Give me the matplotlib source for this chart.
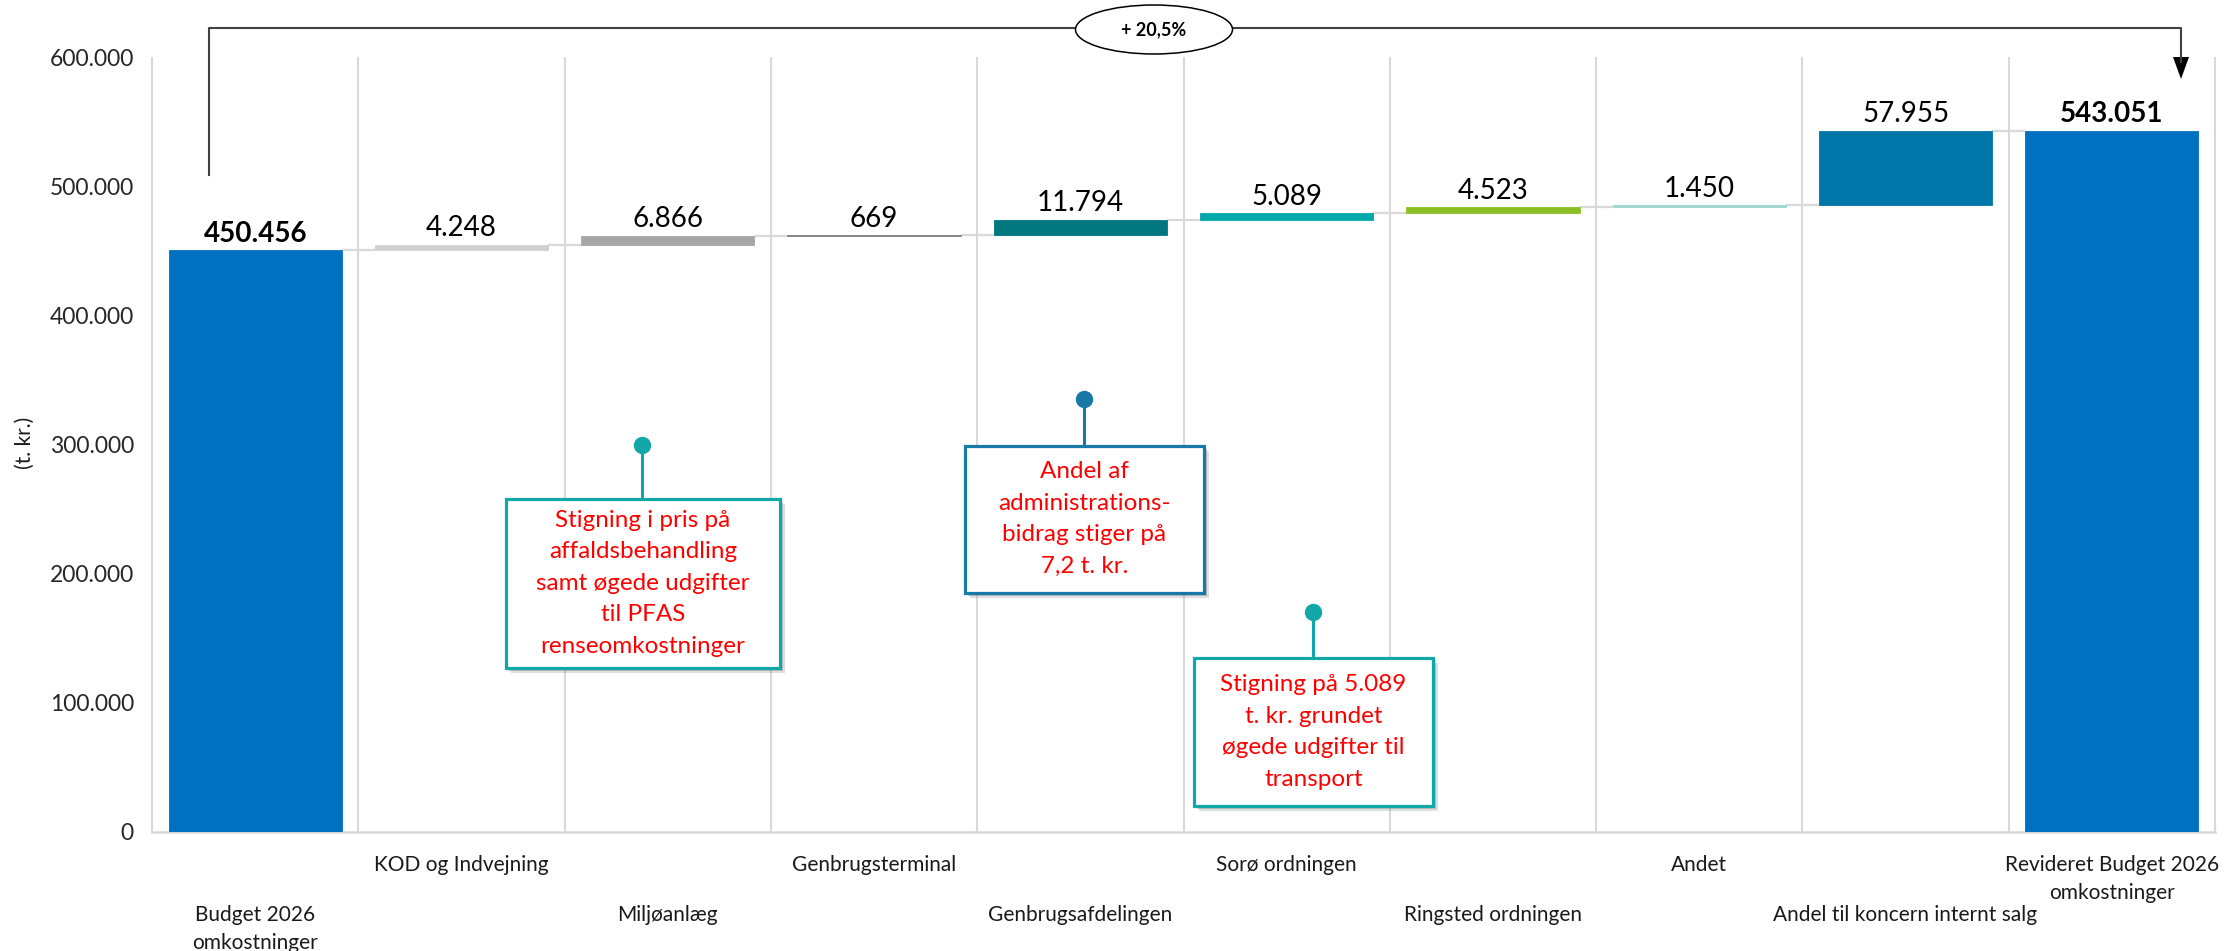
import matplotlib
matplotlib.use("Agg")
import matplotlib.pyplot as plt
from matplotlib.patches import Rectangle, Ellipse, Polygon
from matplotlib.lines import Line2D
from matplotlib.ticker import FuncFormatter
from matplotlib import transforms

plt.rcParams["font.family"] = ["Lato", "DejaVu Sans"]

# ---- data -----------------------------------------------------------------
categories = [
    "Budget 2026\nomkostninger",
    "KOD og Indvejning",
    "Miljøanlæg",
    "Genbrugsterminal",
    "Genbrugsafdelingen",
    "Sorø ordningen",
    "Ringsted ordningen",
    "Andet",
    "Andel til koncern internt salg",
    "Revideret Budget 2026\nomkostninger",
]
start_value = 450456
changes = [4248, 6866, 669, 11794, 5089, 4523, 1450, 57955]
end_value = 543051
y_ticks = [0, 100000, 200000, 300000, 400000, 500000, 600000]
change_label = "+ 20,5%"

bar_colors = ["#0070C0", "#D0D0D0", "#A6A6A6", "#7F7F7F", "#00777F",
              "#00A9AA", "#8CBF26", "#9DD5D2", "#0076A8", "#0070C0"]

notes = [
    "Stigning i pris på\naffaldsbehandling\nsamt øgede udgifter\ntil PFAS\nrenseomkostninger",
    "Andel af\nadministrations-\nbidrag stiger på\n7,2 t. kr.",
    "Stigning på 5.089\nt. kr. grundet\nøgede udgifter til\ntransport",
]

# ---- figure ---------------------------------------------------------------
W, H = 2234, 951
fig = plt.figure(figsize=(W / 100, H / 100), dpi=100)
ax = fig.add_axes([152 / W, 1 - 832 / H, (2215 - 152) / W, (832 - 57) / H])


def fmt(v):
    return f"{int(round(v)):,}".replace(",", ".")


n = len(categories)
bw = 0.84
bottoms, heights = [0], [start_value]
running = start_value
for c in changes:
    bottoms.append(running)
    heights.append(c)
    running += c
bottoms.append(0)
heights.append(end_value)
tops = [b + h for b, h in zip(bottoms, heights)]

ax.set_xlim(-0.5, n - 0.5)
ax.set_ylim(0, 600000)

# category separators
ax.vlines([i - 0.5 for i in range(n + 1)], 0, 600000, colors="#D9D9D9",
          lw=1.5, zorder=0, clip_on=False)

ax.bar(range(n), heights, bottom=bottoms, width=bw, color=bar_colors,
       edgecolor=bar_colors, linewidth=0.6, zorder=3)

# connectors between consecutive bars
for i in range(n - 1):
    lvl = tops[i] if i < n - 2 else tops[n - 1]
    ax.plot([i + bw / 2, i + 1 - bw / 2], [lvl, lvl], color="#D9D9D9",
            lw=1.6, zorder=2, solid_capstyle="butt")

# value labels
labels = [fmt(start_value)] + [fmt(c) for c in changes] + [fmt(end_value)]
for i, (t, lab) in enumerate(zip(tops, labels)):
    bold = i in (0, n - 1)
    ax.annotate(lab, xy=(i, t), xytext=(0, 6), textcoords="offset points",
                ha="center", va="baseline", fontsize=20,
                fontweight="bold" if bold else "normal", color="#000000",
                zorder=5)

# axes styling
for s in ("left", "right", "top"):
    ax.spines[s].set_visible(False)
ax.spines["bottom"].set_color("#D9D9D9")
ax.spines["bottom"].set_linewidth(1.8)
ax.set_yticks(y_ticks)
ax.yaxis.set_major_formatter(FuncFormatter(lambda v, p: fmt(v)))
ax.tick_params(axis="y", length=0, pad=13, labelsize=16.5, labelcolor="#262626")
ax.set_xticks([])

# staggered category labels
for i, cat in enumerate(categories):
    off = 16.5 if i % 2 == 1 else 52.5
    ax.annotate(cat, xy=(i, 0), xycoords=("data", "axes fraction"),
                xytext=(0, -off), textcoords="offset points", ha="center",
                va="top", fontsize=15, linespacing=1.5, color="#1A1A1A")

fig.text(25 / W, 1 - 443 / H, "(t. kr.)", rotation=90, ha="center",
         va="center", fontsize=15, color="#1A1A1A")


# ---- bracket with percentage change ------------------------------------------
def fp(x, y):
    return x / W, 1 - y / H


xs, ys = zip(fp(209, 175), fp(209, 27.7), fp(2181, 27.7), fp(2181, 62))
fig.add_artist(Line2D(xs, ys, transform=fig.transFigure, color="#404040",
                      lw=1.5))
fig.add_artist(Polygon([fp(2173, 57), fp(2189, 57), fp(2181, 79)],
                       closed=True, transform=fig.transFigure,
                       facecolor="#000000", edgecolor="none"))
cx, cy = fp(1154, 29.5)
fig.add_artist(Ellipse((cx, cy), 157 / W, 49 / H, transform=fig.transFigure,
                       facecolor="white", edgecolor="#000000", lw=1.1,
                       zorder=4))
fig.text(cx, cy, change_label, ha="center", va="center", fontsize=13,
         fontweight="bold", zorder=5)

# ---- callout boxes -----------------------------------------------------------
# (left, right, bottom, top, dot x, dot y, edge colour) in axis units
boxes = [
    (1.216, 2.544, 127100, 258100, 1.875, 300000, "#12A8A8"),
    (3.441, 4.599, 185300, 299200, 4.018, 334900, "#1878A6"),
    (4.551, 5.709, 20200, 134900, 5.128, 170500, "#12A8A8"),
]
shadow1 = transforms.offset_copy(ax.transData, fig=fig, x=5, y=-5, units="dots")
shadow2 = transforms.offset_copy(ax.transData, fig=fig, x=3, y=-3, units="dots")
for text, (x0, x1, y0, y1, dx, dy, col) in zip(notes, boxes):
    for tr, a in ((shadow1, 0.25), (shadow2, 0.35)):
        ax.add_patch(Rectangle((x0, y0), x1 - x0, y1 - y0, transform=tr,
                               facecolor="#7F7F7F", edgecolor="none",
                               alpha=a, zorder=6))
    ax.add_patch(Rectangle((x0, y0), x1 - x0, y1 - y0, facecolor="white",
                           edgecolor=col, lw=2.3, zorder=7))
    ax.plot([dx, dx], [y1, dy], color=col, lw=2.2, zorder=7)
    ax.plot([dx], [dy], marker="o", markersize=11.5, color=col, zorder=8)
    ax.text((x0 + x1) / 2, (y0 + y1) / 2, text, ha="center", va="center",
            fontsize=17.5, color="#FF0000", linespacing=1.62, zorder=9)

fig.savefig("out.png", dpi=100)
